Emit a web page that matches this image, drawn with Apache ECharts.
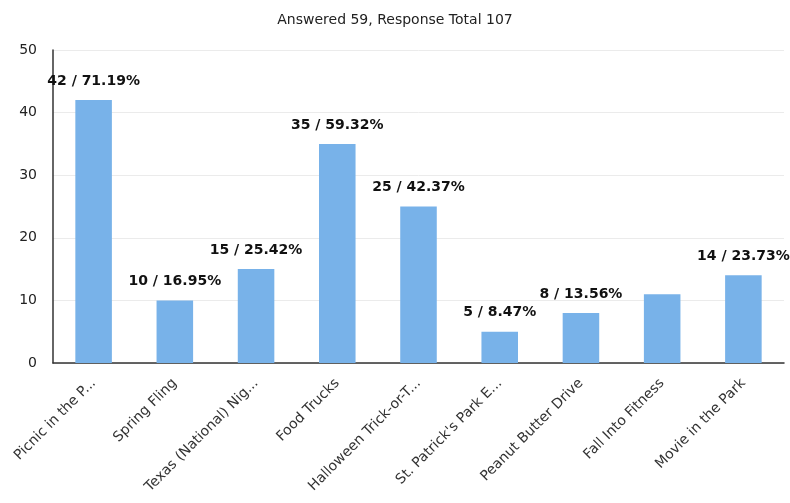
<!DOCTYPE html>
<html><head><meta charset="utf-8">
<script src="https://cdn.jsdelivr.net/npm/echarts@6/dist/echarts.min.js"></script>
<style>html,body{margin:0;padding:0;background:#fff}#c{width:790px;height:503px}</style>
</head><body><div id="c"></div>
<script>
const categories = ["Picnic in the P...", "Spring Fling", "Texas (National) Nig...", "Food Trucks", "Halloween Trick-or-T...", "St. Patrick's Park E...", "Peanut Butter Drive", "Fall Into Fitness", "Movie in the Park"];
const counts = [42, 10, 15, 35, 25, 5, 8, 11, 14];
const labels = ["42 / 71.19%", "10 / 16.95%", "15 / 25.42%", "35 / 59.32%", "25 / 42.37%", "5 / 8.47%", "8 / 13.56%", "", "14 / 23.73%"];
const yTicks = [0, 10, 20, 30, 40, 50];
const titleText = "Answered 59, Response Total 107";

const font = "Tahoma, 'DejaVu Sans', Verdana, sans-serif";
const chart = echarts.init(document.getElementById('c'));
chart.setOption({
  animation: false,
  title: {text: titleText, left: 'center', top: 8, textStyle: {fontFamily: font, fontSize: 14, fontWeight: 'normal', color: '#222'}},
  grid: {left: 53, right: 6, top: 50, bottom: 140, containLabel: false},
  xAxis: {
    type: 'category', data: categories,
    axisLine: {lineStyle: {color: '#333', width: 1.5}},
    axisTick: {show: false},
    axisLabel: {rotate: 45, interval: 0, fontFamily: font, fontSize: 14, color: '#333', margin: 18}
  },
  yAxis: {
    type: 'value', min: yTicks[0], max: yTicks[yTicks.length - 1], interval: 10,
    axisLine: {show: true, lineStyle: {color: '#333', width: 1.5}},
    axisTick: {show: false},
    axisLabel: {fontFamily: font, fontSize: 14, color: '#222', margin: 16},
    splitLine: {lineStyle: {color: '#ebebeb'}}
  },
  series: [{
    type: 'bar', barWidth: '45%',
    data: counts.map((v, i) => ({value: v, label: {show: labels[i] !== ''}})),
    itemStyle: {color: '#78b2e9'},
    label: {position: 'top', distance: 12, fontFamily: font, fontSize: 14, fontWeight: 'bold', color: '#111',
      formatter: p => labels[p.dataIndex]}
  }]
});
</script></body></html>
